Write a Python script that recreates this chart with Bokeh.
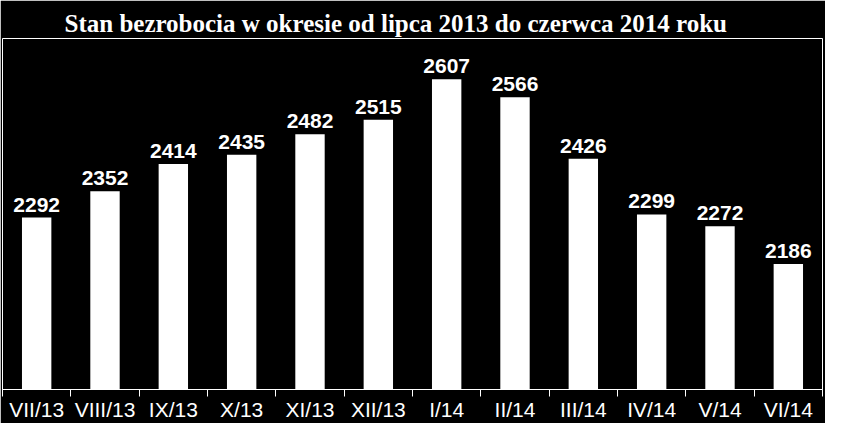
from bokeh.plotting import figure
from bokeh.models import Range1d, FixedTicker, ColumnDataSource
from bokeh.core.properties import value
from bokeh.embed import file_html
from bokeh.resources import INLINE

months = ["VII/13", "VIII/13", "IX/13", "X/13", "XI/13", "XII/13",
          "I/14", "II/14", "III/14", "IV/14", "V/14", "VI/14"]
counts = [2292, 2352, 2414, 2435, 2482, 2515, 2607, 2566, 2426, 2299, 2272, 2186]
y_min = 1900
y_max = 2700
title_text = "Stan bezrobocia w okresie od lipca 2013 do czerwca 2014 roku"

xs = [i + 0.5 for i in range(len(months))]
src = ColumnDataSource(dict(x=xs, top=counts, label=[str(c) for c in counts]))

p = figure(width=825, height=423, x_range=Range1d(0, len(months)),
           y_range=Range1d(y_min, y_max), output_backend="svg",
           toolbar_location=None, y_axis_location=None,
           background_fill_color="black", border_fill_color="black",
           outline_line_color="white", outline_line_width=1,
           min_border_left=2, min_border_right=3, min_border_top=38,
           min_border_bottom=0)

p.title.text = title_text
p.title.text_color = "white"
p.title.text_font = "Liberation Serif"
p.title.text_font_style = "bold"
p.title.text_font_size = "25px"
p.title.align = "left"
p.title.offset = 62
p.title.standoff = 4

p.grid.visible = False

ax = p.xaxis[0]
ax.ticker = FixedTicker(ticks=xs, minor_ticks=list(range(len(months) + 1)))
ax.major_label_overrides = {x: m for x, m in zip(xs, months)}
ax.axis_line_color = "white"
ax.major_tick_out = 0
ax.major_tick_in = 0
ax.major_tick_line_color = None
ax.minor_tick_line_color = "white"
ax.minor_tick_out = 7
ax.minor_tick_in = 0
ax.major_label_text_color = "white"
ax.major_label_text_font = "Liberation Sans"
ax.major_label_text_font_size = "21px"
ax.major_label_standoff = 1

p.vbar(x="x", top="top", bottom=y_min, width=0.43, fill_color="white",
       line_color=None, source=src)
p.text(x="x", y="top", text="label", text_align="center", text_baseline="bottom",
       y_offset=-6, text_color="white", text_font=value("Liberation Sans"),
       text_font_style="bold", text_font_size="21px", source=src)

open("out.html", "w").write(file_html(p, INLINE))
